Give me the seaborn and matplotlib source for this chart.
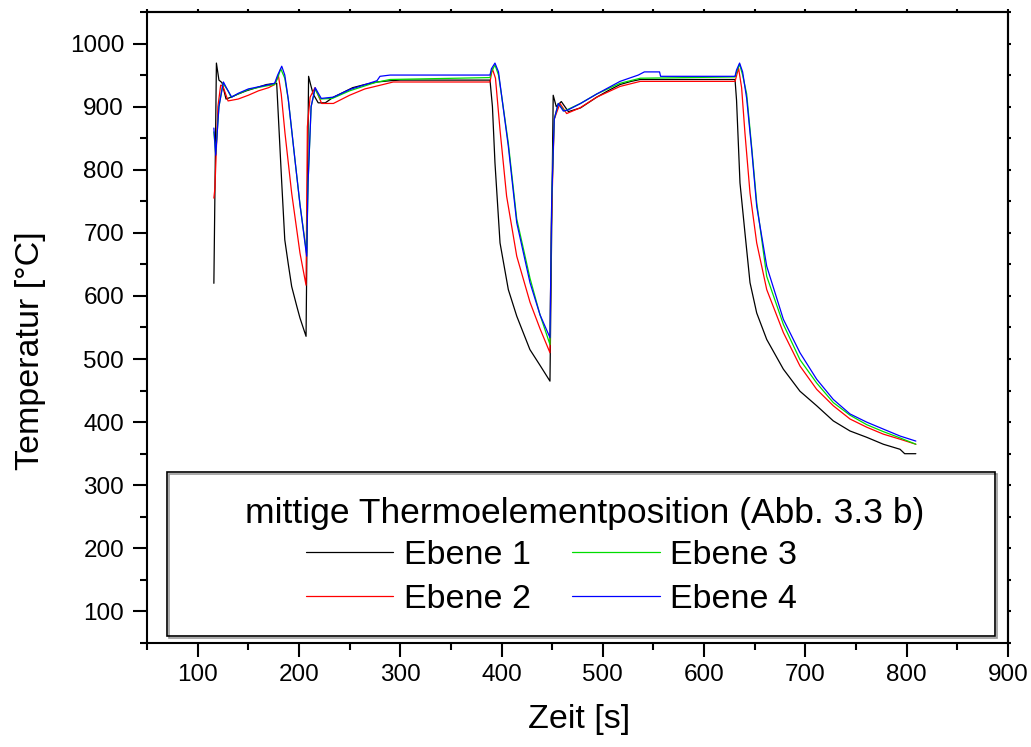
import numpy as np
import pandas as pd
import matplotlib
matplotlib.use("Agg")
import matplotlib.pyplot as plt
from matplotlib.patches import Rectangle
import seaborn as sns

# ---------------- data ----------------
series_names = ["Ebene 1", "Ebene 2", "Ebene 3", "Ebene 4"]
series_colors = ["#000000", "#FF0000", "#00DD00", "#0000FF"]
legend_title = "mittige Thermoelementposition (Abb. 3.3 b)"

t_ebene1 = [116, 118.5, 121, 124, 128, 133, 140, 148, 158, 168,
            178, 183, 186, 189.5, 192.8, 197.8, 201, 207, 209.5, 211.5,
            214, 219, 226, 234, 243, 253, 265, 277, 290, 300,
            388.6, 391, 393.5, 398.5, 406.7, 415, 428, 438, 447.8, 451,
            454, 459, 466, 478, 494, 505, 517, 528, 537, 560,
            630.5, 632, 635.4, 640.3, 645.3, 651.9, 661.8, 678.2, 694.6, 711.1,
            727.5, 744, 760.5, 776.9, 793.4, 798, 809]
T_ebene1 = [620, 969, 942, 938, 912, 915, 920, 925, 930, 935,
            937, 779, 689, 650, 615, 584, 565, 536, 948, 935,
            920, 906, 906, 915, 922, 930, 935, 939, 941, 942,
            942, 900, 811, 684, 610, 568, 515, 490, 465, 918,
            900, 908, 892, 898, 915, 925, 935, 940, 943, 943,
            943, 910, 779, 700, 621, 573, 531, 484, 449, 426,
            402, 386, 376, 365, 357, 350, 350]

t_ebene2 = [116, 117, 120, 122.7, 125, 130, 140, 150, 160, 170,
            176, 179.6, 182.5, 186.2, 192.8, 201, 207, 208.3, 211, 215.8,
            222.4, 234, 250, 265, 283, 293, 388.6, 390.9, 394, 398.5,
            405, 415, 428.1, 438, 447.8, 449, 452, 457.7, 464.3, 477.4,
            494, 517, 537, 600, 630.5, 634, 637, 640.3, 645.3, 651.9,
            661.8, 678.2, 694.6, 711.1, 727.5, 744, 760.5, 776.9, 793.4, 809]
T_ebene2 = [755, 770, 900, 934, 932, 909, 912, 918, 925, 930,
            935, 950, 920, 858, 763, 668, 617, 868, 915, 930,
            905, 905, 918, 928, 935, 939, 939, 960, 945, 863,
            758, 663, 590, 548, 510, 700, 880, 905, 889, 898,
            915, 932, 940, 940, 940, 961, 930, 858, 763, 684,
            610, 542, 489, 452, 426, 405, 392, 381, 373, 365]

t_ebene3 = [116, 117.8, 121, 125, 130, 133, 140, 150, 165, 176,
            179, 182, 186, 189.5, 196.1, 201, 207.5, 209, 212, 216,
            221, 233, 250, 275, 290, 388.6, 390, 393.5, 397, 400.1,
            406.7, 415, 428.1, 438, 447.8, 449.5, 452, 456, 462, 478,
            494, 517, 537, 630.5, 632, 635, 638, 642, 647, 651.9,
            661.8, 678.2, 694.6, 711.1, 727.5, 744, 760.5, 776.9, 793.4, 809]
T_ebene3 = [860, 825, 900, 937, 925, 915, 920, 927, 932, 935,
            945, 960, 945, 911, 815, 745, 668, 780, 900, 928,
            912, 913, 925, 938, 943, 946, 955, 966, 950, 917,
            842, 722, 628, 570, 523, 750, 880, 905, 893, 905,
            920, 937, 945, 947, 955, 967, 950, 920, 835, 748,
            631, 555, 499, 462, 431, 411, 396, 385, 375, 365]

t_ebene4 = [116, 117.8, 121, 125.4, 130, 133.6, 140, 150, 165, 176,
            179, 183, 186, 189.5, 196.1, 201, 207.6, 209, 212, 216,
            222, 234, 250, 277, 280, 290, 388.6, 390, 393.5, 397,
            400.1, 406.7, 415, 428.1, 438, 447.8, 449.5, 452, 456, 461,
            466, 478, 494, 517, 535, 541, 556, 557, 630.5, 632,
            635, 638, 642, 647, 651.9, 661.8, 678.2, 694.6, 711.1, 727.5,
            744, 760.5, 776.9, 793.4, 809]
T_ebene4 = [866, 823, 900, 939, 925, 915, 921, 928, 933, 937,
            950, 964, 950, 911, 815, 745, 663, 780, 900, 930,
            913, 915, 927, 941, 948, 950, 950, 960, 969, 955,
            917, 837, 716, 621, 570, 534, 750, 880, 905, 893,
            895, 905, 920, 940, 950, 955, 955, 948, 948, 958,
            969, 955, 913, 831, 742, 647, 563, 510, 468, 436,
            413, 400, 389, 378, 370]

x_major_ticks = [100, 200, 300, 400, 500, 600, 700, 800, 900]
y_major_ticks = [100, 200, 300, 400, 500, 600, 700, 800, 900, 1000]
x_label = "Zeit [s]"
y_label = "Temperatur [°C]"

# ---------------- build long table ----------------
frames = []
for name, t, T in zip(series_names,
                      [t_ebene1, t_ebene2, t_ebene3, t_ebene4],
                      [T_ebene1, T_ebene2, T_ebene3, T_ebene4]):
    frames.append(pd.DataFrame({"Zeit": t, "Temperatur": T, "Serie": name}))
df = pd.concat(frames, ignore_index=True)

# ---------------- style ----------------
sns.set_style("ticks")
plt.rcParams["font.family"] = ["Liberation Sans", "DejaVu Sans"]
for key in ["text.color", "axes.labelcolor", "xtick.color", "ytick.color",
            "axes.edgecolor"]:
    plt.rcParams[key] = "black"

fig = plt.figure(figsize=(10.31, 7.47), dpi=100)
ax = fig.add_axes([0.1426, 0.1392, 0.8351, 0.8448])

sns.lineplot(data=df, x="Zeit", y="Temperatur", hue="Serie",
             hue_order=series_names, palette=series_colors,
             estimator=None, sort=False, units="Serie",
             linewidth=0.9, ax=ax, legend=True)

ax.set_xlim(50, 900)
ax.set_ylim(50, 1050)
ax.set_xticks(x_major_ticks)
ax.set_yticks(y_major_ticks)
ax.xaxis.set_minor_locator(matplotlib.ticker.MultipleLocator(50))
ax.yaxis.set_minor_locator(matplotlib.ticker.MultipleLocator(50))

for sp in ax.spines.values():
    sp.set_visible(True)
    sp.set_linewidth(1.5)
    sp.set_color("black")

ax.tick_params(which="major", direction="out", length=10, width=1.5,
               labelsize=17.5, colors="black")
ax.tick_params(axis="x", which="major", pad=5)
ax.tick_params(axis="y", which="major", pad=6.5)
ax.tick_params(which="minor", direction="out", length=5.3, width=1.5)

# short ticks on top and right
secx = ax.secondary_xaxis("top")
secx.set_xticks(x_major_ticks)
secx.xaxis.set_minor_locator(matplotlib.ticker.MultipleLocator(50))
secx.tick_params(which="both", direction="out", length=2, width=1.5, labeltop=False)
secx.spines["top"].set_linewidth(1.5)
secy = ax.secondary_yaxis("right")
secy.set_yticks(y_major_ticks)
secy.yaxis.set_minor_locator(matplotlib.ticker.MultipleLocator(50))
secy.tick_params(which="both", direction="out", length=2, width=1.5, labelright=False)
secy.spines["right"].set_linewidth(1.5)

ax.set_xlabel(x_label, fontsize=24.5)
ax.set_ylabel(y_label, fontsize=24.5)
ax.xaxis.set_label_coords(0.502, -0.097)
ax.yaxis.set_label_coords(-0.117, 0.464)

# legend: title as its own text, entries below
ax.text(0.5087, 0.206, legend_title, transform=ax.transAxes,
        ha="center", va="center", fontsize=25.5, color="black", zorder=6)
handles, labels = ax.get_legend_handles_labels()
leg = ax.legend(handles, labels, ncol=2, frameon=False,
                loc="center", bbox_to_anchor=(0.4698, 0.1040),
                fontsize=24.5, handlelength=2.56,
                handletextpad=0.32, columnspacing=1.23, labelspacing=0.36,
                borderpad=0.0)
for h in leg.get_lines():
    h.set_linewidth(0.9)

# legend frame (shadow + box)
ax.add_patch(Rectangle((0.0232 + 0.002, 0.011 - 0.003), 0.9617, 0.260,
                       transform=ax.transAxes, fill=False,
                       edgecolor="#999999", linewidth=1.2, zorder=4))
ax.add_patch(Rectangle((0.0232, 0.011), 0.9617, 0.260,
                       transform=ax.transAxes, facecolor="none",
                       edgecolor="black", linewidth=1.2, zorder=5))

fig.savefig("out.png", dpi=100)
